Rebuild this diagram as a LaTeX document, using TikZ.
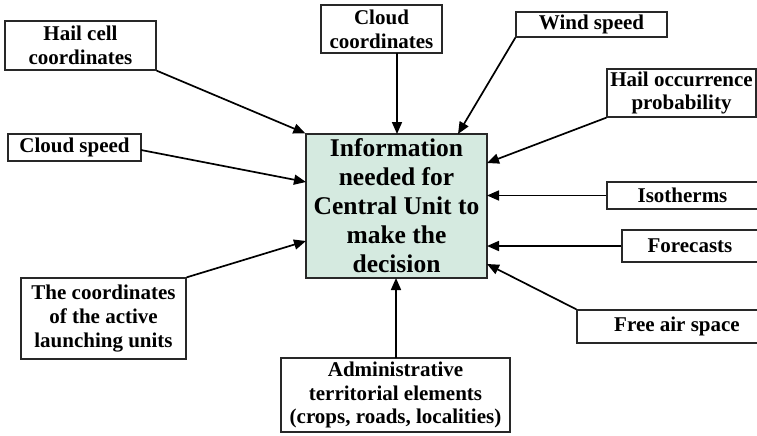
\documentclass[tikz,border=0pt]{standalone}
\usepackage{fontspec}
\setmainfont{Liberation Serif}
\usetikzlibrary{arrows.meta}
\definecolor{centrefill}{RGB}{213,234,224}
\definecolor{boxline}{RGB}{40,40,40}
\tikzset{
  infobox/.style={draw=boxline, line width=1.3pt, fill=white, inner sep=0pt,
    align=center, font=\fontsize{21}{23.8}\selectfont\bfseries},
  mainbox/.style={infobox, fill=centrefill, font=\fontsize{25.5}{29}\selectfont\bfseries},
  feed/.style={line width=1.7pt, -{Triangle[length=12pt,width=10pt]}}
}
\begin{document}
\begin{tikzpicture}[x=1pt, y=-1pt]
\useasboundingbox (0,0) rectangle (757,436);

% central unit
\node[mainbox, minimum width=181pt, minimum height=144pt] (central) at (396.5,206)
  {Information\\needed for\\Central Unit to\\make the\\decision};

% input boxes
\node[infobox, minimum width=151pt, minimum height=49pt] (hail) at (80.5,45.5) {Hail cell\\coordinates};
\node[infobox, minimum width=133pt, minimum height=27pt] (cspeed) at (74.5,147.5) {Cloud speed};
\node[infobox, minimum width=121pt, minimum height=48pt] (ccoord) at (381.5,29) {Cloud\\coordinates};
\node[infobox, minimum width=151pt, minimum height=25pt] (wind) at (591.5,24.5) {Wind speed};
\node[infobox, minimum width=149pt, minimum height=48pt] (hailp) at (681.5,93) {Hail occurrence\\probability};
\node[infobox, minimum width=151pt, minimum height=27pt] (iso) at (682.5,195.5) {Isotherms};
\node[infobox, minimum width=136pt, minimum height=32pt] (fore) at (690,246) {Forecasts};
\node[infobox, minimum width=200pt, minimum height=33pt] (free) at (677,326.5) {Free air space};
\node[infobox, minimum width=165pt, minimum height=81pt] (launch) at (103.5,318.5)
  {The coordinates\\of the active\\launching units};
\node[infobox, minimum width=229pt, minimum height=74pt] (admin) at (395.5,395)
  {Administrative\\territorial elements\\(crops, roads, localities)};

% arrival points on the central box
\coordinate (inCS) at (306,182);
\coordinate (inLU) at (306,241);
\coordinate (inCC) at (397,134);
\coordinate (inWS) at (458,134);
\coordinate (inHP) at (487,163);
\coordinate (inIS) at (487,195.5);
\coordinate (inFC) at (487,246);
\coordinate (inFA) at (487,264);
\coordinate (inAD) at (396,278);
\coordinate (outCS) at (141,150);
\coordinate (outCC) at (397,53);
\coordinate (outAD) at (396,358);

% connectors
\draw[feed] (hail.south east) -- (central.north west);
\draw[feed] (outCS) -- (inCS);
\draw[feed] (outCC) -- (inCC);
\draw[feed] (wind.south west) -- (inWS);
\draw[feed] (hailp.south west) -- (inHP);
\draw[feed] (iso.west) -- (inIS);
\draw[feed] (fore.west) -- (inFC);
\draw[feed] (free.north west) -- (inFA);
\draw[feed] (launch.north east) -- (inLU);
\draw[feed] (outAD) -- (inAD);
\end{tikzpicture}
\end{document}
